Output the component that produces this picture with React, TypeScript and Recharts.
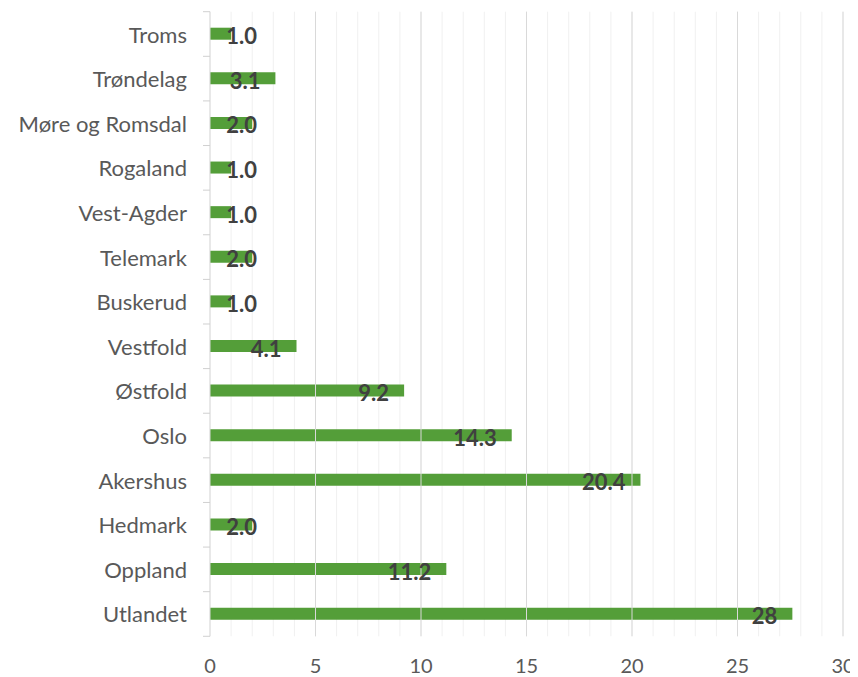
import React from "react";
import { BarChart, Bar, XAxis, YAxis, CartesianGrid, LabelList, ReferenceLine } from "recharts";

const categories = [
  "Troms",
  "Trøndelag",
  "Møre og Romsdal",
  "Rogaland",
  "Vest-Agder",
  "Telemark",
  "Buskerud",
  "Vestfold",
  "Østfold",
  "Oslo",
  "Akershus",
  "Hedmark",
  "Oppland",
  "Utlandet",
];
const values = [1.0, 3.1, 2.0, 1.0, 1.0, 2.0, 1.0, 4.1, 9.2, 14.3, 20.4, 2.0, 11.2, 27.6];
const dataLabels = ["1.0", "3.1", "2.0", "1.0", "1.0", "2.0", "1.0", "4.1", "9.2", "14.3", "20.4", "2.0", "11.2", "28"];
const majorTicks = [5, 10, 15, 20, 25, 30];
const minorTicks = [
  0, 1, 2, 3, 4, 5, 6, 7, 8, 9, 10, 11, 12, 13, 14, 15, 16, 17, 18, 19, 20, 21, 22, 23, 24, 25, 26, 27, 28, 29, 30,
];

const data = categories.map((c, i) => ({ name: c, value: values[i], label: dataLabels[i] }));

const FONT = "Lato, 'DejaVu Sans', sans-serif";
const HALF_BAND = 22.3;

const estWidth = (s: string) => {
  let w = 0;
  for (const ch of s) w += ch === "." ? 5.5 : 12.8;
  return w;
};

const renderLabel = (props: any) => {
  const { x, y, width, height, value } = props;
  const s = String(value);
  const endX = Math.max(x + width - 15, x + 16 + estWidth(s));
  return (
    <text
      x={endX}
      y={y + height / 2 + 2}
      textAnchor="end"
      dominantBaseline="central"
      fill="#404040"
      fontWeight="bold"
      fontSize={22}
      fontFamily={FONT}
    >
      {s}
    </text>
  );
};

const CategoryTick = (props: any) => {
  const { x, y, payload, index } = props;
  const axisX = x + 23;
  return (
    <g>
      <text
        x={x}
        y={y}
        textAnchor="end"
        dominantBaseline="central"
        fill="#595959"
        fontSize={22}
        fontFamily={FONT}
      >
        {payload.value}
      </text>
      {index === 0 && (
        <line x1={axisX - 7} x2={axisX} y1={y - HALF_BAND} y2={y - HALF_BAND} stroke="#d0d0d0" />
      )}
      <line x1={axisX - 7} x2={axisX} y1={y + HALF_BAND} y2={y + HALF_BAND} stroke="#d0d0d0" />
    </g>
  );
};

export default function App() {
  return (
    <div style={{ fontFamily: FONT }}>
      <BarChart
        width={850}
        height={669}
        data={data}
        layout="vertical"
        margin={{ top: 3.7, right: 15, bottom: 10.7, left: 0 }}
        barCategoryGap={0}
        style={{ overflow: "visible" }}
      >
        <XAxis
          type="number"
          domain={[0, 30]}
          ticks={minorTicks}
          interval={0}
          tickFormatter={(v: number) => (v % 5 === 0 ? String(v) : "")}
          axisLine={false}
          tickLine={false}
          height={30}
          tickMargin={16}
          tick={{ fill: "#595959", fontSize: 20, fontFamily: FONT }}
        />
        <YAxis
          type="category"
          dataKey="name"
          width={202}
          tickSize={6}
          tickMargin={17}
          tickLine={false}
          axisLine={{ stroke: "#d9d9d9" }}
          tick={<CategoryTick />}
          interval={0}
        />
        <CartesianGrid horizontal={false} stroke="#f0f0f0" strokeWidth={1} />
        {majorTicks.map((t) => (
          <ReferenceLine key={t} x={t} stroke="#d9d9d9" strokeWidth={1} />
        ))}
        <Bar dataKey="value" fill="#549E39" barSize={12} isAnimationActive={false}>
          <LabelList dataKey="label" content={renderLabel} />
        </Bar>
      </BarChart>
    </div>
  );
}
